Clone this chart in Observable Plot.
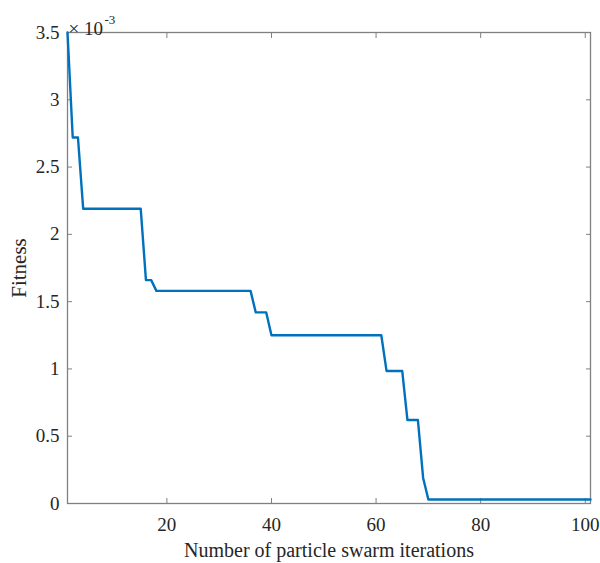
<!DOCTYPE html>
<html>
<head>
<meta charset="utf-8">
<script src="https://cdn.jsdelivr.net/npm/d3@7"></script>
<script src="https://cdn.jsdelivr.net/npm/@observablehq/plot@0.6"></script>
<style>
  html, body { margin: 0; padding: 0; background: #fff; }
</style>
</head>
<body>
<div id="chart"></div>
<script>
// Iterations where the fitness curve changes (linear between consecutive points)
const iterations = [1, 2, 3, 4, 15, 16, 17, 18, 36, 37, 39, 40, 61, 62, 65, 66, 68, 69, 70, 101];
// Fitness values in units of 1e-3
const fitness = [3.50, 2.72, 2.72, 2.19, 2.19, 1.66, 1.66, 1.58, 1.58, 1.42, 1.42, 1.25, 1.25, 0.985, 0.985, 0.62, 0.62, 0.19, 0.03, 0.03];
const xTicks = [20, 40, 60, 80, 100];
const yTicks = [0, 0.5, 1, 1.5, 2, 2.5, 3, 3.5];
const yTickLabels = ["0", "0.5", "1", "1.5", "2", "2.5", "3", "3.5"];
const xLabel = "Number of particle swarm iterations";
const yLabel = "Fitness";
const exponentBase = "× 10";
const exponentPower = "-3";

const data = iterations.map((it, i) => ({iteration: it, fitness: fitness[i]}));
const gray = "#808080";

const chart = Plot.plot({
  width: 600,
  height: 563,
  marginLeft: 67,
  marginRight: 10,
  marginTop: 32,
  marginBottom: 60,
  style: {fontFamily: "'Liberation Serif', 'Times New Roman', serif", fontSize: "19px", color: "#262626", background: "#fff"},
  x: {domain: [1, 101]},
  y: {domain: [0, 3.5]},
  marks: [
    Plot.frame({stroke: gray, strokeWidth: 1.3}),
    Plot.axisX(xTicks, {anchor: "bottom", tickSize: 0, tickPadding: 14, fontSize: 19, label: null, fill: "#262626"}),
    Plot.axisX({anchor: "bottom", ticks: [], label: xLabel, labelAnchor: "center", labelOffset: 53, labelArrow: "none", fontSize: 20, fill: "#262626"}),
    Plot.axisX(xTicks, {anchor: "bottom", tickSize: -5, text: null, label: null, stroke: gray}),
    Plot.axisX(xTicks, {anchor: "top", tickSize: -5, text: null, label: null, stroke: gray}),
    Plot.axisY(yTicks, {anchor: "left", tickSize: 0, tickPadding: 8, fontSize: 19, tickFormat: (d) => yTickLabels[yTicks.indexOf(d)], label: null, fill: "#262626"}),
    Plot.axisY({anchor: "left", ticks: [], label: yLabel, labelAnchor: "center", labelOffset: 56, labelArrow: "none", fontSize: 21, fill: "#262626"}),
    Plot.axisY(yTicks, {anchor: "left", tickSize: -5, text: null, label: null, stroke: gray}),
    Plot.axisY(yTicks, {anchor: "right", tickSize: -5, text: null, label: null, stroke: gray}),
    Plot.line(data, {x: "iteration", y: "fitness", stroke: "#0072BD", strokeWidth: 2.4}),
    Plot.text([exponentBase], {frameAnchor: "top-left", text: (d) => d, textAnchor: "start", dx: 1, dy: -11, fontSize: 19, fill: "#262626"}),
    Plot.text([exponentPower], {frameAnchor: "top-left", text: (d) => d, textAnchor: "start", dx: 37, dy: -18, fontSize: 13, fill: "#262626"})
  ]
});
document.getElementById("chart").appendChild(chart);
</script>
</body>
</html>
